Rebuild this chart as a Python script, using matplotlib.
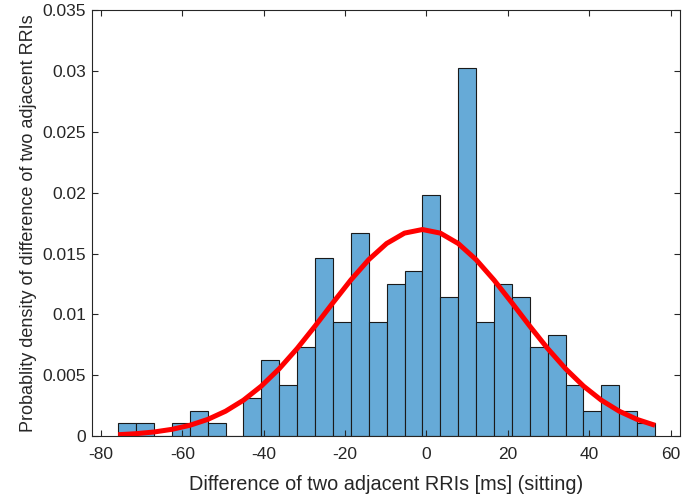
import numpy as np
import matplotlib
matplotlib.use("Agg")
import matplotlib.pyplot as plt

# histogram: 30 bins, counts per bin (N = 218 samples)
bin_start = -75.8
bin_width = 4.4
counts = [1, 1, 0, 1, 2, 1, 0, 3, 6, 4,
          7, 14, 9, 16, 9, 12, 13, 19, 11, 29,
          9, 12, 11, 7, 8, 4, 2, 4, 2, 1]

# fitted normal distribution
fit_mean = -1.0
fit_std = 23.5

xticks = [-80, -60, -40, -20, 0, 20, 40, 60]
yticks = [0, 0.005, 0.01, 0.015, 0.02, 0.025, 0.03, 0.035]
ytick_labels = ['0', '0.005', '0.01', '0.015', '0.02', '0.025', '0.03', '0.035']

plt.rcParams['font.family'] = ['Liberation Sans', 'DejaVu Sans']
plt.rcParams['axes.unicode_minus'] = False

counts = np.array(counts)
edges = bin_start + bin_width * np.arange(len(counts) + 1)
density = counts / (counts.sum() * bin_width)

fig = plt.figure(figsize=(6.83, 4.95), dpi=100)
ax = fig.add_axes([91.7 / 683, 1 - 436 / 495, (680.3 - 91.7) / 683, (436 - 10.3) / 495])

ax.bar(edges[:-1], density, width=bin_width, align='edge',
       color='#66aad7', edgecolor='#1a1a1a', linewidth=0.8)

pdf = np.exp(-0.5 * ((edges - fit_mean) / fit_std) ** 2) / (fit_std * np.sqrt(2 * np.pi))
ax.plot(edges, pdf, color='#ff0000', linewidth=3.6, solid_capstyle='butt')

ax.set_xlim(-82.3, 62.4)
ax.set_ylim(0, 0.035)
ax.set_xticks(xticks)
ax.set_yticks(yticks)
ax.set_yticklabels(ytick_labels)

ax.tick_params(direction='in', top=True, right=True, length=4, width=0.8,
               color='#262626', labelcolor='#262626', labelsize=12.5)
ax.tick_params(axis='x', pad=8)
ax.tick_params(axis='y', pad=4)
for s in ax.spines.values():
    s.set_color('#262626')
    s.set_linewidth(0.8)

ax.set_xlabel('Difference of two adjacent RRIs [ms] (sitting)', fontsize=14.3,
              color='#262626', labelpad=9)
ax.set_ylabel('Probablity density of difference of two adjacent RRIs', fontsize=13,
              color='#262626', labelpad=4)

fig.savefig('out.png', dpi=100)
